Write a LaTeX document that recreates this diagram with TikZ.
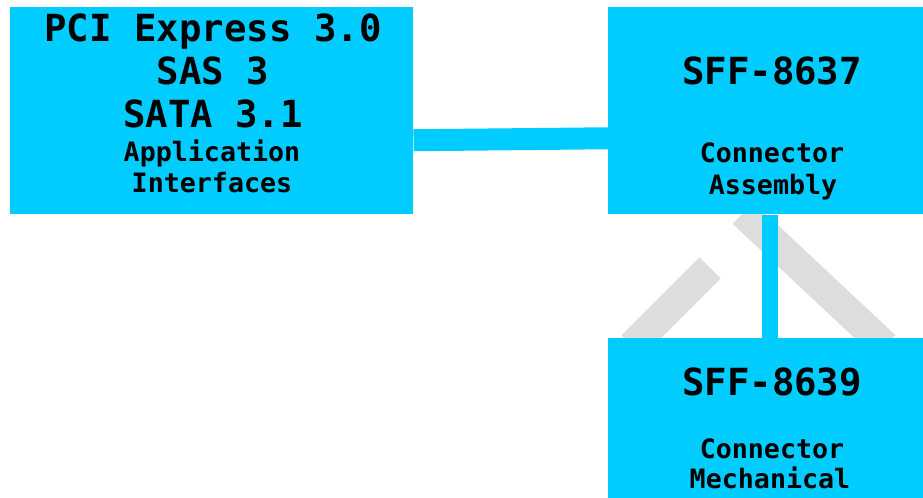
\documentclass[tikz,border=0pt]{standalone}
\usepackage{fontspec}
\setmonofont{DejaVu Sans Mono}
\usetikzlibrary{calc}
\definecolor{caixa}{HTML}{00CCFF}
\definecolor{marca}{HTML}{DDDDDD}
\tikzset{
  bloco/.style={fill=caixa, draw=none, inner sep=0pt, anchor=north west},
  titulo/.style={anchor=base, font=\ttfamily\bfseries\fontsize{28}{28}\selectfont},
  sub/.style={anchor=base, font=\ttfamily\bfseries\fontsize{20}{20}\selectfont},
  ligacao/.style={caixa, line cap=butt},
  faixa/.style={marca, line width=22.5pt}
}
\begin{document}
\begin{tikzpicture}[x=0.75pt, y=-0.75pt]
    \useasboundingbox[fill=white] (0,0) rectangle (923,498);

    % Faixas cinzentas de fundo
    \draw[faixa] (743,213) -- (885,346);
    \draw[faixa] (710,268) -- (632,346);

    % Caixas
    \node[bloco, minimum width=302.25pt, minimum height=155.25pt] (apps) at (10,7) {};
    \node[bloco, minimum width=236.25pt, minimum height=155.25pt] (asm) at (608,7) {};
    \node[bloco, minimum width=236.25pt, minimum height=120pt] (mech) at (608,338) {};

    % Ligacoes
    \draw[ligacao, line width=16.5pt] ($(apps.east)+(0,29.5)$) -- ($(asm.west)+(0,27.5)$);
    \draw[ligacao, line width=12pt] ($(asm.south)+(4.5,0)$) -- ($(mech.north)+(4.5,0)$);

    % Textos
    \node[titulo] (pci) at (213,42) {PCI Express 3.0};
    \node[titulo] (sas) at (213,85) {SAS 3};
    \node[titulo] (sata) at (213,128) {SATA 3.1};
    \node[sub] (appl) at (212,162) {Application};
    \node[sub] (intf) at (212,193) {Interfaces};

    \node[titulo] (sff7) at (772,85) {SFF-8637};
    \node[sub] (con7) at (772,163) {Connector};
    \node[sub] (ass7) at (773,195) {Assembly};

    \node[titulo] (sff9) at (772,395) {SFF-8639};
    \node[sub] (con9) at (772,458) {Connector};
    \node[sub] (mec9) at (770,488) {Mechanical};
\end{tikzpicture}
\end{document}
